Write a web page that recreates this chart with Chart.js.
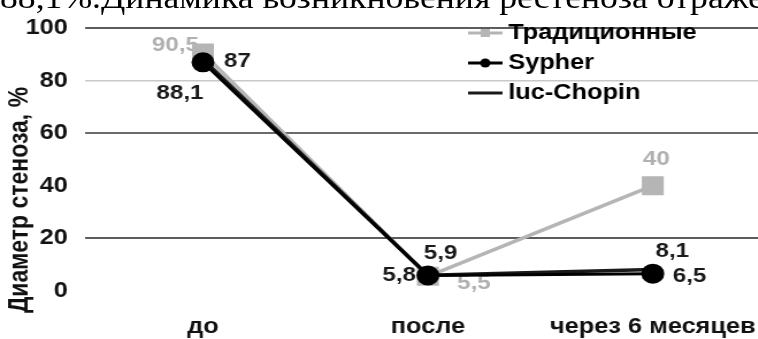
<!DOCTYPE html>
<html>
<head>
<meta charset="utf-8">
<script src="https://cdn.jsdelivr.net/npm/chart.js@4.4.1/dist/chart.umd.min.js"></script>
<style>
  html, body { margin: 0; padding: 0; background: #fff; overflow: hidden; }
  /* the source picture is stretched sideways, so the whole chart is too */
  #wrap { position: relative; width: 659px; height: 339px; transform: scaleX(1.15); transform-origin: 0 0; }
  #heading { position: absolute; left: 0; top: -18px; font: 31px "Liberation Serif", "Times New Roman", serif; line-height: 32px; white-space: nowrap; color: #000; }
  canvas { position: absolute; left: 0; top: 0; }
</style>
</head>
<body>
<div id="wrap">
  <div id="heading">88,1%.Динамика возникновения рестеноза отраже</div>
  <canvas id="chart" width="659" height="339"></canvas>
</div>
<script>
const categories = ["до", "после", "через 6 месяцев"];
const traditional = [90.5, 5.5, 40];
const sypher = [87, 5.8, 6.5];
const lucChopin = [88.1, 5.9, 8.1];
const yTicks = [0, 20, 40, 60, 80, 100];

const FONT = '"Liberation Sans", Arial, sans-serif';

// where each value label sits relative to its point
const labelOffsets = [
  [[-24, -8], [40, 7], [3, -26]],
  [[30, -1], [-25, 0], [32, 3]],
  [[-20, 34], [11, -22], [17, -18]]
];
const labelColors = ["#b0b0b0", "#1a1a1a", "#1a1a1a"];

// scan-like grid: some lines faint or missing
const gridStyle = {
  100: ["#5c5c5c", 2],
  80: ["#c8c8c8", 1.5],
  60: ["#6a6a6a", 2],
  40: ["rgba(0,0,0,0)", 1],
  20: ["#5c5c5c", 2],
  0: ["rgba(0,0,0,0)", 1]
};

const toPoints = (arr) => arr.map((v, i) => ({ x: i, y: v }));

const valueLabels = {
  id: "valueLabels",
  beforeDatasetsDraw(chart) {
    const ctx = chart.ctx;
    ctx.save();
    ctx.font = "bold 21px " + FONT;
    ctx.textAlign = "center";
    ctx.textBaseline = "middle";
    chart.data.datasets.forEach((ds, di) => {
      const meta = chart.getDatasetMeta(di);
      meta.data.forEach((pt, i) => {
        const [dx, dy] = labelOffsets[di][i];
        ctx.fillStyle = labelColors[di];
        ctx.fillText(String(ds.data[i].y).replace(".", ","), pt.x + dx, pt.y + dy);
      });
    });
    ctx.restore();
  }
};

const sideLegend = {
  id: "sideLegend",
  afterDraw(chart) {
    const ctx = chart.ctx;
    ctx.save();
    // y axis title
    ctx.font = "bold 23px " + FONT;
    ctx.fillStyle = "#111";
    ctx.translate(18, 200);
    ctx.rotate(-Math.PI / 2);
    ctx.textAlign = "center";
    ctx.textBaseline = "middle";
    ctx.fillText("Диаметр стеноза, %", 0, 0);
    ctx.restore();

    ctx.save();
    ctx.font = "bold 22px " + FONT;
    ctx.textBaseline = "middle";
    ctx.textAlign = "left";
    const rows = [33, 63, 93];
    chart.data.datasets.forEach((ds, i) => {
      const y = rows[i];
      ctx.strokeStyle = ds.borderColor;
      ctx.fillStyle = ds.borderColor;
      ctx.lineWidth = 3;
      ctx.beginPath();
      ctx.moveTo(407, y);
      ctx.lineTo(437, y);
      ctx.stroke();
      if (ds.pointRadius > 0) {
        ctx.beginPath();
        if (ds.pointStyle === "rect") ctx.rect(418, y - 4, 8, 8);
        else ctx.arc(422, y, 4.5, 0, Math.PI * 2);
        ctx.fill();
      }
      ctx.fillStyle = "#000";
      ctx.fillText(ds.label, 442, y);
    });
    ctx.restore();
  }
};

new Chart(document.getElementById("chart"), {
  type: "line",
  data: {
    datasets: [
      {
        label: "Традиционные",
        data: toPoints(traditional),
        borderColor: "#b5b5b5",
        backgroundColor: "#b5b5b5",
        borderWidth: 3.5,
        pointStyle: "rect",
        pointRadius: 11,
        order: 2
      },
      {
        label: "Sypher",
        data: toPoints(sypher),
        borderColor: "#000000",
        backgroundColor: "#000000",
        borderWidth: 3,
        pointStyle: "circle",
        pointRadius: 8.5,
        order: 0
      },
      {
        label: "luc-Chopin",
        data: toPoints(lucChopin),
        borderColor: "#1a1a1a",
        backgroundColor: "#1a1a1a",
        borderWidth: 3.5,
        pointRadius: 0,
        order: 1
      }
    ]
  },
  options: {
    responsive: false,
    animation: false,
    devicePixelRatio: 1,
    layout: { autoPadding: false, padding: { top: 22.5, right: 0, bottom: 0, left: 0 } },
    plugins: {
      legend: { display: false },
      tooltip: { enabled: false }
    },
    scales: {
      x: {
        type: "linear",
        min: -0.524,
        max: 2.467,
        grid: { display: false },
        border: { display: false },
        afterBuildTicks: (scale) => {
          scale.ticks = categories.map((c, i) => ({ value: i }));
        },
        afterFit: (scale) => {
          scale.height = 48.3;
          scale.paddingLeft = 0;
          scale.paddingRight = 0;
        },
        ticks: {
          autoSkip: false,
          maxRotation: 0,
          padding: 15,
          color: "#111",
          font: { family: FONT, size: 22, weight: "bold" },
          callback: (v) => categories[v]
        }
      },
      y: {
        min: 0,
        max: 100,
        afterBuildTicks: (scale) => {
          scale.ticks = yTicks.map((v) => ({ value: v }));
        },
        afterFit: (scale) => { scale.width = 74; },
        border: { display: false },
        grid: {
          drawTicks: false,
          color: (c) => (gridStyle[c.tick.value] || ["#666", 1])[0],
          lineWidth: (c) => (gridStyle[c.tick.value] || ["#666", 1])[1]
        },
        ticks: {
          padding: 15,
          color: "#111",
          font: { family: FONT, size: 22, weight: "bold" }
        }
      }
    }
  },
  plugins: [valueLabels, sideLegend]
});
</script>
</body>
</html>
